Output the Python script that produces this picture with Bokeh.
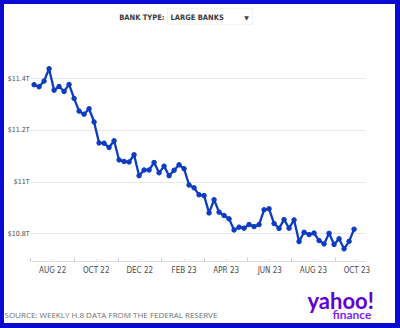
import pandas as pd
from bokeh.plotting import figure
from bokeh.layouts import column
from bokeh.models import FixedTicker, Label, BoxAnnotation, Range1d
from bokeh.embed import file_html
from bokeh.resources import INLINE

# ---- data -------------------------------------------------------------
first_week = "2022-07-06"   # weekly H.8 observations (Wednesdays)
deposits_trillions = [
    11.377, 11.369, 11.391, 11.439, 11.356, 11.370, 11.351, 11.378, 11.324, 11.275,
    11.263, 11.284, 11.233, 11.152, 11.151, 11.134, 11.160, 11.086, 11.080, 11.078,
    11.106, 11.025, 11.047, 11.047, 11.076, 11.036, 11.062, 11.025, 11.046, 11.067,
    11.052, 10.989, 10.978, 10.951, 10.948, 10.881, 10.932, 10.884, 10.871, 10.858,
    10.815, 10.826, 10.822, 10.836, 10.828, 10.836, 10.893, 10.897, 10.840, 10.821,
    10.855, 10.822, 10.854, 10.770, 10.806, 10.797, 10.803, 10.774, 10.761, 10.802,
    10.759, 10.781, 10.742, 10.771, 10.818,
]
tick_months = ["2022-08-01", "2022-10-01", "2022-12-01", "2023-02-01",
               "2023-04-01", "2023-06-01", "2023-08-01", "2023-10-01"]
tick_labels = ["AUG 22", "OCT 22", "DEC 22", "FEB 23",
               "APR 23", "JUN 23", "AUG 23", "OCT 23"]
minor_months = ["2022-07-01", "2022-09-01", "2022-11-01", "2023-01-01",
                "2023-03-01", "2023-05-01", "2023-07-01", "2023-09-01"]
y_ticks = [10.8, 11.0, 11.2, 11.4]
y_tick_labels = ["$10.8T", "$11T", "$11.2T", "$11.4T"]
selector_title = "BANK TYPE:"
bank_type = "LARGE BANKS"
source_text = "SOURCE: WEEKLY H.8 DATA FROM THE FEDERAL RESERVE"


def ms(s):
    return int(pd.Timestamp(s).value // 10**6)


weeks = pd.date_range(first_week, periods=len(deposits_trillions), freq="7D")
xs = [int(t.value // 10**6) for t in weeks]
tick_ms = [ms(s) for s in tick_months]
minor_ms = [ms(s) for s in minor_months]

LINE = "#0c3cc2"
FRAME = "#0a0ad2"
NARROW = "DejaVu Sans Condensed"
W = 391   # inner width; 4px + 5px blue border gives 400


def bordered(widths):
    return {"border-style": "solid", "border-color": FRAME,
            "border-width": widths, "box-sizing": "content-box"}


def blank(height, widths):
    f = figure(width=W, height=height, output_backend="svg", toolbar_location=None,
               x_range=Range1d(0, 1), y_range=Range1d(0, 1),
               x_axis_location=None, y_axis_location=None,
               min_border=0, outline_line_color=None, frame_align=False,
               background_fill_color="white", border_fill_color="white",
               styles=bordered(widths))
    f.grid.visible = False
    return f


# ---- header -------------------------------------------------------------
head = blank(54, "4px 5px 0px 4px")
head.add_layout(Label(x=160, y=45, x_units="screen", y_units="screen",
                      text=selector_title, text_align="right", text_baseline="middle",
                      text_font=NARROW, text_font_style="bold",
                      text_font_size="7.5px", text_color="#3a3a3a"))
head.add_layout(BoxAnnotation(left=163, right=248, bottom=38, top=54,
                              left_units="screen", right_units="screen",
                              bottom_units="screen", top_units="screen",
                              fill_color="white", fill_alpha=1,
                              line_color="#d6d6d6", line_width=1))
head.add_layout(Label(x=166, y=45, x_units="screen", y_units="screen",
                      text=bank_type, text_align="left", text_baseline="middle",
                      text_font=NARROW, text_font_style="bold",
                      text_font_size="7.5px", text_color="#3a3a3a"))
head.add_layout(Label(x=242, y=45, x_units="screen", y_units="screen",
                      text="\u25BC", text_align="center", text_baseline="middle",
                      text_font="DejaVu Sans", text_font_size="6px",
                      text_color="#444444"))

# ---- main chart -----------------------------------------------------------
p = figure(width=W, height=227, output_backend="svg", toolbar_location=None,
           x_range=Range1d(ms("2022-07-01"), ms("2023-10-13")),
           y_range=Range1d(10.693, 11.463),
           min_border_left=22, min_border_right=39,
           min_border_top=4, min_border_bottom=24,
           background_fill_color="white", border_fill_color="white",
           outline_line_color=None, frame_align=False,
           styles=bordered("0px 5px 0px 4px"))

p.line(xs, deposits_trillions, line_color=LINE, line_width=2.3)
p.scatter(xs, deposits_trillions, size=4.5, fill_color=LINE, line_color=LINE)

p.xaxis.ticker = FixedTicker(ticks=tick_ms, minor_ticks=minor_ms)
p.xaxis.major_label_overrides = dict(zip(tick_ms, tick_labels))
p.xaxis.axis_line_color = "#dcdcdc"
p.xaxis.major_tick_line_color = "#e6e6e6"
p.xaxis.major_tick_in = 3
p.xaxis.major_tick_out = 0
p.xaxis.minor_tick_line_color = "#cfcfcf"
p.xaxis.minor_tick_in = 4
p.xaxis.minor_tick_out = 0
p.xaxis.major_label_standoff = 4
p.xaxis.major_label_text_font = NARROW
p.xaxis.major_label_text_font_size = "8px"
p.xaxis.major_label_text_color = "#4a4a4a"

p.yaxis.ticker = FixedTicker(ticks=y_ticks)
p.yaxis.major_label_overrides = dict(zip(y_ticks, y_tick_labels))
p.yaxis.axis_line_color = None
p.yaxis.major_tick_line_color = None
p.yaxis.minor_tick_line_color = None
p.yaxis.major_tick_out = 0
p.yaxis.major_label_standoff = 1
p.yaxis.major_label_text_font = NARROW
p.yaxis.major_label_text_font_size = "7px"
p.yaxis.major_label_text_color = "#4a4a4a"

p.xgrid.grid_line_color = None
p.ygrid.grid_line_color = "#e8e8e8"
p.ygrid.ticker = FixedTicker(ticks=y_ticks)

# ---- footer ---------------------------------------------------------------
foot = blank(38, "0px 5px 5px 4px")
foot.add_layout(Label(x=0, y=14, x_units="screen", y_units="screen",
                      text=source_text, text_align="left", text_baseline="middle",
                      text_font="Open Sans", text_font_size="8px",
                      text_color="#6e6e6e"))
foot.add_layout(Label(x=303, y=28, x_units="screen", y_units="screen",
                      text="yahoo!", text_align="left", text_baseline="middle",
                      text_font="Lato", text_font_style="bold",
                      text_font_size="22px", text_color="#6001d2"))
foot.add_layout(Label(x=328, y=14, x_units="screen", y_units="screen",
                      text="finance", text_align="left", text_baseline="middle",
                      text_font="Lato", text_font_style="bold",
                      text_font_size="12px", text_color="#7e1fff"))

layout = column(head, p, foot, spacing=0)
open("out.html", "w").write(file_html(layout, INLINE))
